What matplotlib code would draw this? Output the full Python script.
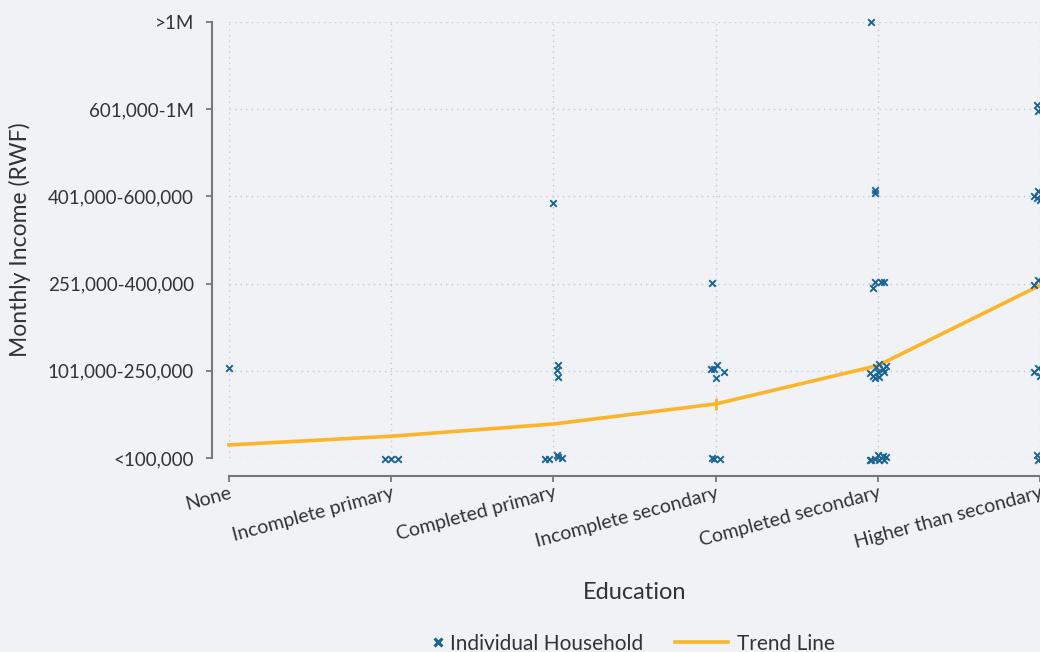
import matplotlib.pyplot as plt
from matplotlib.lines import Line2D

education = ['None', 'Incomplete primary', 'Completed primary',
             'Incomplete secondary', 'Completed secondary', 'Higher than secondary']
income_levels = ['<100,000', '101,000-250,000', '251,000-400,000',
                 '401,000-600,000', '601,000-1M', '>1M']

# trend line: mean income level per education group
trend = [0.15, 0.25, 0.39, 0.62, 1.06, 1.98]

# individual households: education index, jitter, income level
hh_edu = ([0] + [1] * 3 + [2] * 9 + [3] * 9 + [4] * 25 + [5] * 13)
hh_jitter = [0.0,
             -0.04, 0.0, 0.04,
             0.0, 0.03, 0.02, 0.03, -0.05, -0.03, 0.02, 0.03, 0.05,
             -0.02, -0.03, -0.01, 0.01, 0.05, 0.0, -0.02, -0.01, 0.03,
             -0.04, -0.02, -0.02, -0.02, -0.03, 0.02, 0.04,
             -0.05, -0.03, -0.01, 0.0, 0.01, 0.03, 0.04, 0.05, -0.02, 0.01,
             -0.05, -0.04, -0.02, 0.0, 0.01, 0.03, 0.04, 0.05,
             -0.02, -0.01, -0.04, -0.01, 0.0, -0.02, -0.04, -0.01, -0.04, -0.01, 0.0, -0.02, -0.01]
hh_income = [1.03,
             -0.01, -0.01, -0.01,
             2.92, 1.07, 1.01, 0.93, -0.01, -0.01, 0.03, 0.01, 0.0,
             2.01, 1.02, 1.02, 1.07, 0.99, 0.92, 0.0, -0.01, -0.01,
             5.0, 3.07, 3.04, 2.02, 1.95, 2.02, 2.02,
             0.97, 0.94, 1.04, 0.99, 0.93, 1.02, 0.99, 1.06, 0.92, 1.08,
             -0.02, -0.02, -0.01, 0.03, -0.02, 0.02, -0.02, 0.01,
             4.05, 3.98, 3.0, 3.06, 2.96, 2.98, 1.98, 2.04, 0.99, 1.03, 0.94, 0.03, -0.02]

BG = '#f0f2f6'
BLUE = '#1b6590'
ORANGE = '#fbb52a'
TXT = '#333333'

plt.rcParams['font.family'] = ['Lato', 'DejaVu Sans']

fig = plt.figure(figsize=(10.4, 6.52), dpi=100, facecolor=BG)
ax = fig.add_axes([0.2202, 0.2975, 0.7798, 0.6688], facecolor=BG)

# spines first: moving them resets the ticks
for s in ['top', 'right']:
    ax.spines[s].set_visible(False)
ax.spines['left'].set_position(('outward', 12.2))
ax.spines['bottom'].set_position(('outward', 13))
for s in ['left', 'bottom']:
    ax.spines[s].set_color('#777777')
    ax.spines[s].set_linewidth(1.5)

ax.plot(range(len(trend)), trend, color=ORANGE, lw=2.6, zorder=2,
        marker='|', markevery=[3], ms=8, mew=2, clip_on=False)
xs = [e + j for e, j in zip(hh_edu, hh_jitter)]
ax.scatter(xs, hh_income, marker='x', s=22, color=BLUE, linewidths=1.4,
           zorder=3, clip_on=False)

ax.set_xlim(0, 5)
ax.set_ylim(0, 5)
ax.grid(True, ls=(0, (1, 3)), color='#c3c8d3', lw=1)
ax.set_axisbelow(True)

ax.set_xticks(range(len(education)))
ax.set_yticks(range(len(income_levels)))
ax.tick_params(axis='both', colors='#777777', labelcolor=TXT, width=1.3, length=4)
ax.tick_params(axis='y', pad=9)
ax.tick_params(axis='x', pad=2)
ax.set_yticklabels(income_levels, fontsize=13.5)
ax.set_xticklabels(education, fontsize=14, rotation=15, ha='right',
                   rotation_mode='anchor')

ax.set_xlabel('Education', fontsize=17, color=TXT, labelpad=22)
ax.set_ylabel('Monthly Income (RWF)', fontsize=16.5, color=TXT, labelpad=12)

fig.legend([Line2D([], [], ls='none', marker='x', color=BLUE, ms=6, mew=2.2)],
           ['Individual Household'], loc='center', bbox_to_anchor=(0.516, 0.013),
           frameon=False, fontsize=15, handlelength=0.8, handletextpad=0.2,
           labelcolor=TXT)
fig.legend([Line2D([], [], color=ORANGE, lw=2.6)], ['Trend Line'], loc='center',
           bbox_to_anchor=(0.726, 0.013), frameon=False, fontsize=15,
           handlelength=2.55, handletextpad=0.4, labelcolor=TXT)

fig.savefig('out.png', dpi=100, facecolor=BG)
